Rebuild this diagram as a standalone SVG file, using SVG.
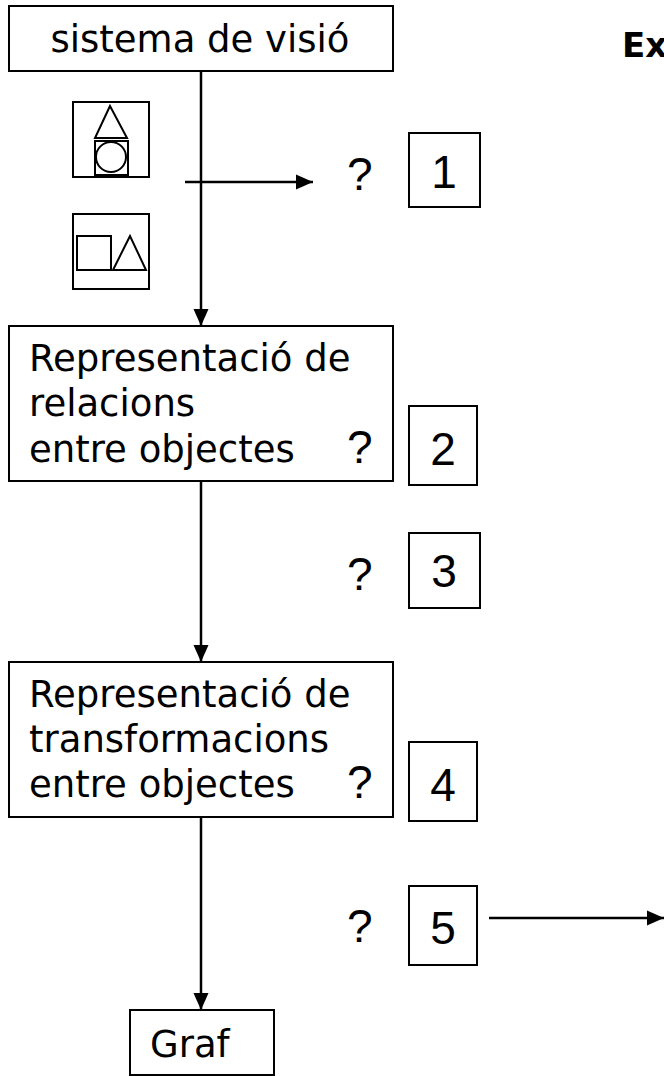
<svg xmlns="http://www.w3.org/2000/svg" width="664" height="1076" viewBox="0 0 664 1076">
  <defs>
    <marker id="arrow" markerUnits="userSpaceOnUse" markerWidth="17" markerHeight="17" viewBox="0 0 17 17" refX="17" refY="8.5" orient="auto">
      <path d="M0,1 L17,8.5 L0,16 Z" fill="#000"/>
    </marker>
  </defs>
  <style>
    .box { fill: #fff; stroke: #000; stroke-width: 2; }
    .thin { fill: none; stroke: #000; stroke-width: 2; }
    .lbl { font-family: "DejaVu Sans", Verdana, sans-serif; font-size: 37px; fill: #000; }
    .q { font-family: "Liberation Sans", Arial, sans-serif; font-size: 46px; fill: #000; }
    .num { font-family: "Liberation Sans", Arial, sans-serif; font-size: 46px; fill: #000; text-anchor: middle; }
    .edge { stroke: #000; stroke-width: 2.5; fill: none; marker-end: url(#arrow); }
  </style>

  <rect width="664" height="1076" fill="#fff"/>

  <!-- connectors -->
  <g id="connectors">
    <line class="edge" x1="201" y1="72" x2="201" y2="326"/>
    <line class="edge" x1="185" y1="182" x2="313" y2="182"/>
    <line class="edge" x1="201" y1="482" x2="201" y2="662"/>
    <line class="edge" x1="201" y1="817" x2="201" y2="1010"/>
    <line class="edge" x1="489" y1="918" x2="664" y2="918"/>
  </g>

  <!-- input node -->
  <g id="sistema-visio">
    <rect class="box" x="9" y="6" width="384" height="65"/>
    <text class="lbl" x="200" y="52" text-anchor="middle">sistema de visió</text>
  </g>

  <!-- scene sketches -->
  <g id="escena-1">
    <rect class="thin" x="73" y="102" width="76" height="75"/>
    <polygon class="thin" points="110,106 95,138 127,138"/>
    <rect class="thin" x="95" y="141" width="33" height="34"/>
    <circle class="thin" cx="111" cy="157" r="15"/>
  </g>
  <g id="escena-2">
    <rect class="thin" x="73" y="214" width="76" height="75"/>
    <rect class="thin" x="77" y="236" width="34" height="34"/>
    <polygon class="thin" points="130,236 113,270 146,270"/>
  </g>

  <!-- relations node -->
  <g id="relacions">
    <rect class="box" x="9" y="326" width="384" height="155"/>
    <text class="lbl" x="29" y="371">Representació de</text>
    <text class="lbl" x="29" y="416">relacions</text>
    <text class="lbl" x="29" y="462">entre objectes</text>
    <text class="q" x="347" y="463">?</text>
  </g>

  <!-- transformations node -->
  <g id="transformacions">
    <rect class="box" x="9" y="662" width="384" height="155"/>
    <text class="lbl" x="29" y="707">Representació de</text>
    <text class="lbl" x="29" y="752">transformacions</text>
    <text class="lbl" x="29" y="797">entre objectes</text>
    <text class="q" x="347" y="798">?</text>
  </g>

  <!-- graph node -->
  <g id="graf">
    <rect class="box" x="130" y="1010" width="144" height="65"/>
    <text class="lbl" x="150" y="1057">Graf</text>
  </g>

  <!-- numbered question marks -->
  <g id="q1">
    <text class="q" x="347" y="190">?</text>
    <rect class="box" x="409" y="133" width="71" height="74"/>
    <text class="num" x="444" y="188">1</text>
  </g>
  <g id="q2">
    <rect class="box" x="409" y="406" width="68" height="79"/>
    <text class="num" x="443" y="465">2</text>
  </g>
  <g id="q3">
    <text class="q" x="347" y="590">?</text>
    <rect class="box" x="409" y="533" width="71" height="75"/>
    <text class="num" x="444" y="587">3</text>
  </g>
  <g id="q4">
    <rect class="box" x="409" y="742" width="68" height="79"/>
    <text class="num" x="443" y="801">4</text>
  </g>
  <g id="q5">
    <text class="q" x="347" y="942">?</text>
    <rect class="box" x="409" y="886" width="68" height="79"/>
    <text class="num" x="443" y="944">5</text>
  </g>

  <!-- heading, running off the right edge -->
  <text x="622" y="57" font-family="DejaVu Sans, Verdana, sans-serif" font-size="34" font-weight="bold">Ex</text>
</svg>
